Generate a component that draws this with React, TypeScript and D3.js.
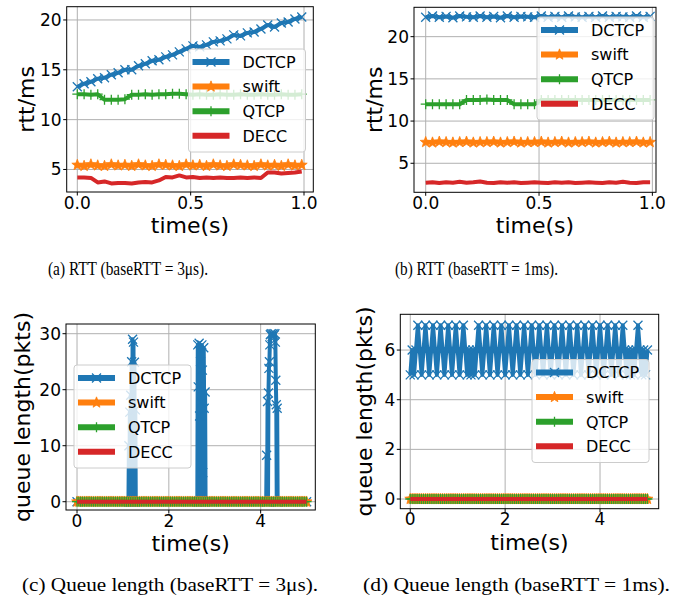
import React from "react";
import * as d3 from "d3";

// ---------- data ----------
const seriesNames = ["DCTCP", "swift", "QTCP", "DECC"];
const seriesColors = ["#1f77b4", "#ff7f0e", "#2ca02c", "#d62728"];
const seriesMarkers = ["x", "star", "plus", "none"];

const rttTimes = [0, 0.03, 0.06, 0.09, 0.12, 0.15, 0.18, 0.21, 0.24, 0.27, 0.3, 0.33, 0.36, 0.39, 0.42, 0.45, 0.48,
  0.51, 0.54, 0.57, 0.6, 0.63, 0.66, 0.69, 0.72, 0.75, 0.78, 0.81, 0.84, 0.87, 0.9, 0.93, 0.96, 0.99];

// (a) baseRTT = 3us
const rttA_DCTCP = [13.3, 13.6, 13.8, 14.1, 14.2, 14.5, 14.7, 15.0, 15.0, 15.4, 15.6, 15.9, 16.0, 16.3, 16.5, 16.8, 17.1,
  17.4, 17.3, 17.5, 17.8, 17.9, 18.1, 18.5, 18.4, 18.7, 18.8, 19.1, 19.5, 19.3, 19.7, 19.8, 20.1, 20.3];
const rttA_swift = [5.45, 5.35, 5.5, 5.4, 5.35, 5.5, 5.4, 5.45, 5.35, 5.5, 5.4, 5.35, 5.5, 5.45, 5.4, 5.35, 5.5,
  5.4, 5.45, 5.35, 5.5, 5.4, 5.35, 5.5, 5.45, 5.4, 5.35, 5.5, 5.4, 5.45, 5.35, 5.5, 5.4, 5.45];
const rttA_QTCP = [12.55, 12.55, 12.5, 12.55, 12.0, 12.0, 12.0, 12.05, 12.5, 12.5, 12.55, 12.5, 12.55, 12.55, 12.6, 12.6, 12.55,
  12.5, 12.55, 12.5, 12.5, 12.55, 12.5, 12.5, 12.55, 12.5, 12.5, 12.55, 12.5, 12.5, 12.55, 12.5, 12.5, 12.55];
const rttA_DECC = [4.2, 4.2, 4.15, 3.7, 3.8, 3.6, 3.65, 3.65, 3.6, 3.7, 3.75, 3.7, 3.9, 4.25, 4.2, 4.4, 4.2,
  4.25, 4.15, 4.2, 4.15, 4.2, 4.15, 4.15, 4.2, 4.15, 4.2, 4.15, 4.7, 4.7, 4.6, 4.65, 4.7, 4.8];

// (b) baseRTT = 1ms
const rttB_DCTCP = [22.3, 22.45, 22.3, 22.4, 22.25, 22.45, 22.35, 22.3, 22.45, 22.3, 22.4, 22.25, 22.45, 22.3, 22.4, 22.35, 22.3,
  22.45, 22.3, 22.4, 22.3, 22.45, 22.35, 22.3, 22.4, 22.3, 22.45, 22.3, 22.4, 22.35, 22.3, 22.45, 22.3, 22.4];
const rttB_swift = [7.5, 7.45, 7.55, 7.5, 7.45, 7.5, 7.55, 7.45, 7.5, 7.5, 7.55, 7.45, 7.5, 7.55, 7.45, 7.5, 7.5,
  7.55, 7.45, 7.5, 7.55, 7.45, 7.5, 7.5, 7.55, 7.45, 7.5, 7.55, 7.45, 7.5, 7.5, 7.55, 7.45, 7.5];
const rttB_QTCP = [12.0, 12.0, 12.0, 12.0, 12.0, 12.0, 12.5, 12.5, 12.5, 12.55, 12.5, 12.5, 12.5, 12.0, 12.0, 12.0, 12.0,
  12.5, 12.5, 12.5, 12.5, 12.5, 12.5, 12.5, 12.5, 12.5, 12.5, 12.5, 12.5, 12.5, 12.5, 12.5, 12.5, 12.5];
const rttB_DECC = [2.7, 2.75, 2.65, 2.75, 2.7, 2.8, 2.7, 2.75, 2.85, 2.7, 2.65, 2.75, 2.7, 2.75, 2.65, 2.7, 2.75,
  2.7, 2.65, 2.75, 2.7, 2.75, 2.65, 2.7, 2.75, 2.7, 2.65, 2.75, 2.7, 2.8, 2.7, 2.65, 2.75, 2.75];

// queue length sampled every 0.04 s (0 .. 5 s)
const queueStep = 0.04;
const queueD_DCTCP = [
  5, 6, 5, 6, 7, 6, 5, 6, 7, 6,
  5, 6, 7, 6, 5, 6, 7, 6, 5, 6,
  7, 6, 5, 6, 7, 6, 5, 6, 7, 6,
  5, 6, 5, 6, 5, 6, 7, 6, 5, 6,
  7, 6, 5, 6, 7, 6, 5, 6, 7, 6,
  5, 6, 7, 6, 5, 6, 7, 6, 5, 6,
  7, 6, 5, 6, 7, 6, 5, 6, 7, 6,
  5, 6, 7, 6, 5, 6, 7, 6, 5, 6,
  7, 6, 5, 6, 7, 6, 5, 6, 7, 6,
  5, 6, 7, 6, 5, 6, 7, 6, 5, 6,
  7, 6, 5, 6, 7, 6, 5, 6, 7, 6,
  5, 6, 7, 6, 5, 6, 5, 6, 5, 6,
  7, 6, 5, 6, 5, 6];
const queueZeros = [
  0, 0, 0, 0, 0, 0, 0, 0, 0, 0, 0, 0, 0, 0, 0, 0, 0, 0, 0, 0,
  0, 0, 0, 0, 0, 0, 0, 0, 0, 0, 0, 0, 0, 0, 0, 0, 0, 0, 0, 0,
  0, 0, 0, 0, 0, 0, 0, 0, 0, 0, 0, 0, 0, 0, 0, 0, 0, 0, 0, 0,
  0, 0, 0, 0, 0, 0, 0, 0, 0, 0, 0, 0, 0, 0, 0, 0, 0, 0, 0, 0,
  0, 0, 0, 0, 0, 0, 0, 0, 0, 0, 0, 0, 0, 0, 0, 0, 0, 0, 0, 0,
  0, 0, 0, 0, 0, 0, 0, 0, 0, 0, 0, 0, 0, 0, 0, 0, 0, 0, 0, 0,
  0, 0, 0, 0, 0, 0];

// (c) DCTCP queue: bursts around 1.2 s, 2.7 s and 4.2-4.4 s
const queueC_DCTCP_t = [0,
  1.12, 1.13, 1.14, 1.15, 1.16, 1.17, 1.18, 1.19, 1.2, 1.21, 1.22, 1.23, 1.24, 1.25, 1.26, 1.27, 1.28,
  2.62, 2.63, 2.64, 2.65, 2.66, 2.67, 2.68, 2.69, 2.7, 2.71, 2.72, 2.73, 2.74, 2.75, 2.76, 2.77, 2.78, 2.79, 2.8,
  4.12, 4.13, 4.14, 4.15, 4.16, 4.17, 4.18, 4.19, 4.2, 4.21, 4.23, 4.25, 4.27, 4.29, 4.31, 4.32, 4.33, 4.34, 4.35, 4.36, 4.37, 4.38,
  5.0];
const queueC_DCTCP_v = [0,
  0, 10, 0, 16, 0, 19, 0, 25, 0, 29, 0, 28.5, 0, 24.9, 0, 16.4, 0,
  0, 28, 20.5, 0, 28.3, 15.3, 0, 25, 17.7, 0, 28, 23.5, 5.2, 0, 27.5, 16.7, 0, 19.6, 0,
  0, 8.3, 0, 17.9, 0, 19.4, 23.8, 25, 28, 29.8, 30, 29.5, 30, 29.7, 30, 28.5, 21.7, 17.3, 0, 16.7, 0, 0,
  0];

const rttXTicks = [0, 0.5, 1.0];
const rttYTicks = [5, 10, 15, 20];
const queueXTicks = [0, 2, 4];
const queueCYTicks = [0, 10, 20, 30];
const queueDYTicks = [0, 2, 4, 6];

const captions = [
  "(a) RTT (baseRTT = 3\u03bcs).",
  "(b) RTT (baseRTT = 1ms).",
  "(c) Queue length (baseRTT = 3\u03bcs).",
  "(d) Queue length (baseRTT = 1ms).",
];

// ---------- helpers ----------
type Series = { x: number[]; y: number[] };
type PanelCfg = {
  id: string;
  l: number; r: number; t: number; b: number;
  xDomain: [number, number]; yDomain: [number, number];
  xTicks: number[]; yTicks: number[];
  xFmt: (v: number) => string; yFmt: (v: number) => string;
  yLabel: string; yLabelX: number;
  series: Series[];
  legend: { x: number; y: number };
  caption: string; captionX: number; captionY: number; captionW: number;
};

function starPath(R: number) {
  const r = R * 0.42;
  let p = "";
  for (let k = 0; k < 10; k++) {
    const a = -Math.PI / 2 + (k * Math.PI) / 5;
    const rad = k % 2 ? r : R;
    p += (k ? "L" : "M") + (rad * Math.cos(a)).toFixed(2) + "," + (rad * Math.sin(a)).toFixed(2);
  }
  return p + "Z";
}
const MS = 5;
const markerPaths: Record<string, string> = {
  x: `M${-MS * 0.9},${-MS * 0.9}L${MS * 0.9},${MS * 0.9}M${-MS * 0.9},${MS * 0.9}L${MS * 0.9},${-MS * 0.9}`,
  plus: `M${-MS},0L${MS},0M0,${-MS}L0,${MS}`,
  star: starPath(MS * 1.15),
};

function Marker({ kind, color, x, y }: { kind: string; color: string; x: number; y: number }) {
  if (kind === "none") return null;
  if (kind === "star")
    return <path d={markerPaths.star} transform={`translate(${x},${y})`} fill={color} stroke={color} strokeWidth={0.8} />;
  return <path d={markerPaths[kind]} transform={`translate(${x},${y})`} fill="none" stroke={color} strokeWidth={1.3} />;
}

const FONT = "DejaVu Sans, Verdana, sans-serif";

function Panel({ cfg }: { cfg: PanelCfg }) {
  const xs = d3.scaleLinear().domain(cfg.xDomain).range([cfg.l, cfg.r]);
  const ys = d3.scaleLinear().domain(cfg.yDomain).range([cfg.b, cfg.t]);
  const line = d3
    .line<[number, number]>()
    .x((d) => xs(d[0]))
    .y((d) => ys(d[1]));
  const clipId = "clip-" + cfg.id;
  const lg = cfg.legend;
  const lgW = 117, lgH = 103, rowGap = 24.6;
  return (
    <g>
      <defs>
        <clipPath id={clipId}>
          <rect x={cfg.l} y={cfg.t} width={cfg.r - cfg.l} height={cfg.b - cfg.t} />
        </clipPath>
      </defs>
      {/* grid */}
      {cfg.xTicks.map((v) => (
        <line key={"gx" + v} x1={xs(v)} x2={xs(v)} y1={cfg.t} y2={cfg.b} stroke="#b0b0b0" strokeWidth={1} />
      ))}
      {cfg.yTicks.map((v) => (
        <line key={"gy" + v} x1={cfg.l} x2={cfg.r} y1={ys(v)} y2={ys(v)} stroke="#b0b0b0" strokeWidth={1} />
      ))}
      {/* series */}
      <g clipPath={`url(#${clipId})`}>
        {cfg.series.map((s, i) => {
          const pts: [number, number][] = s.x.map((xv, j) => [xv, s.y[j]]);
          return (
            <g key={"s" + i}>
              <path d={line(pts) || ""} fill="none" stroke={seriesColors[i]} strokeWidth={4} strokeLinejoin="round" />
              {pts.map((p, j) => (
                <Marker key={j} kind={seriesMarkers[i]} color={seriesColors[i]} x={xs(p[0])} y={ys(p[1])} />
              ))}
            </g>
          );
        })}
      </g>
      {/* legend */}
      <g>
        <rect x={lg.x} y={lg.y} width={lgW} height={lgH} rx={3} ry={3} fill="white" fillOpacity={0.8} stroke="#cccccc" strokeWidth={1} />
        {seriesNames.map((n, i) => {
          const cy = lg.y + 13 + i * rowGap;
          return (
            <g key={n}>
              <line x1={lg.x + 4} x2={lg.x + 41} y1={cy} y2={cy} stroke={seriesColors[i]} strokeWidth={6} />
              <Marker kind={seriesMarkers[i]} color={seriesColors[i]} x={lg.x + 22.5} y={cy} />
              <text x={lg.x + 54} y={cy + 5.8} fontFamily={FONT} fontSize={16} fill="#000">{n}</text>
            </g>
          );
        })}
      </g>
      {/* spines */}
      <rect x={cfg.l} y={cfg.t} width={cfg.r - cfg.l} height={cfg.b - cfg.t} fill="none" stroke="#000" strokeWidth={1} />
      {/* ticks */}
      {cfg.xTicks.map((v) => (
        <g key={"tx" + v}>
          <line x1={xs(v)} x2={xs(v)} y1={cfg.b} y2={cfg.b + 3.5} stroke="#000" strokeWidth={1} />
          <text x={xs(v)} y={cfg.b + 16.5} textAnchor="middle" fontFamily={FONT} fontSize={17}>{cfg.xFmt(v)}</text>
        </g>
      ))}
      {cfg.yTicks.map((v) => (
        <g key={"ty" + v}>
          <line x1={cfg.l - 3.5} x2={cfg.l} y1={ys(v)} y2={ys(v)} stroke="#000" strokeWidth={1} />
          <text x={cfg.l - 5} y={ys(v) + 6} textAnchor="end" fontFamily={FONT} fontSize={17}>{cfg.yFmt(v)}</text>
        </g>
      ))}
      {/* axis labels */}
      <text x={(cfg.l + cfg.r) / 2} y={cfg.b + 41} textAnchor="middle" fontFamily={FONT} fontSize={22}>time(s)</text>
      <text transform={`translate(${cfg.yLabelX},${(cfg.t + cfg.b) / 2}) rotate(-90)`} textAnchor="middle" fontFamily={FONT} fontSize={22}>
        {cfg.yLabel}
      </text>
      {/* caption */}
      <text
        x={cfg.captionX - cfg.captionW / 2}
        y={cfg.captionY}
        textLength={cfg.captionW}
        lengthAdjust="spacingAndGlyphs"
        fontFamily="Liberation Serif, Times New Roman, serif"
        fontSize={18.5}
      >
        {cfg.caption}
      </text>
    </g>
  );
}

const f1 = (v: number) => v.toFixed(1);
const f0 = (v: number) => String(v);
const qTimes = queueZeros.map((_, i) => i * queueStep);

const panels: PanelCfg[] = [
  {
    id: "a", l: 66.7, r: 313.3, t: 6.7, b: 192,
    xDomain: [-0.0468, 1.041], yDomain: [2.74, 21.33],
    xTicks: rttXTicks, yTicks: rttYTicks, xFmt: f1, yFmt: f0,
    yLabel: "rtt/ms", yLabelX: 33.5,
    series: [
      { x: rttTimes, y: rttA_DCTCP },
      { x: rttTimes, y: rttA_swift },
      { x: rttTimes, y: rttA_QTCP },
      { x: rttTimes, y: rttA_DECC },
    ],
    legend: { x: 188.5, y: 49 },
    caption: captions[0], captionX: 128, captionY: 275, captionW: 160,
  },
  {
    id: "b", l: 414, r: 656, t: 7.3, b: 192.3,
    xDomain: [-0.0516, 1.016], yDomain: [1.56, 23.48],
    xTicks: rttXTicks, yTicks: rttYTicks, xFmt: f1, yFmt: f0,
    yLabel: "rtt/ms", yLabelX: 381.5,
    series: [
      { x: rttTimes, y: rttB_DCTCP },
      { x: rttTimes, y: rttB_swift },
      { x: rttTimes, y: rttB_QTCP },
      { x: rttTimes, y: rttB_DECC },
    ],
    legend: { x: 537, y: 17 },
    caption: captions[1], captionX: 476.5, captionY: 275, captionW: 163,
  },
  {
    id: "c", l: 66, r: 315.3, t: 324, b: 510,
    xDomain: [-0.24, 5.19], yDomain: [-1.48, 31.73],
    xTicks: queueXTicks, yTicks: queueCYTicks, xFmt: f0, yFmt: f0,
    yLabel: "queue length(pkts)", yLabelX: 30,
    series: [
      { x: queueC_DCTCP_t, y: queueC_DCTCP_v },
      { x: qTimes, y: queueZeros },
      { x: qTimes, y: queueZeros },
      { x: qTimes, y: queueZeros },
    ],
    legend: { x: 74, y: 365 },
    caption: captions[2], captionX: 170, captionY: 591, captionW: 296,
  },
  {
    id: "d", l: 400.3, r: 658.7, t: 314.3, b: 508.7,
    xDomain: [-0.21, 5.237], yDomain: [-0.39, 7.44],
    xTicks: queueXTicks, yTicks: queueDYTicks, xFmt: f0, yFmt: f0,
    yLabel: "queue length(pkts)", yLabelX: 371.5,
    series: [
      { x: qTimes, y: queueD_DCTCP },
      { x: qTimes, y: queueZeros },
      { x: qTimes, y: queueZeros },
      { x: qTimes, y: queueZeros },
    ],
    legend: { x: 532, y: 359.5 },
    caption: captions[3], captionX: 516.5, captionY: 591, captionW: 307,
  },
];

export default function App() {
  return (
    <svg
      width={693}
      height={602}
      viewBox="0 0 693 602"
      style={{ position: "absolute", left: 0, top: 0, background: "#fff" }}
    >
      <rect x={0} y={0} width={693} height={602} fill="#fff" />
      {panels.map((p) => (
        <Panel key={p.id} cfg={p} />
      ))}
    </svg>
  );
}
